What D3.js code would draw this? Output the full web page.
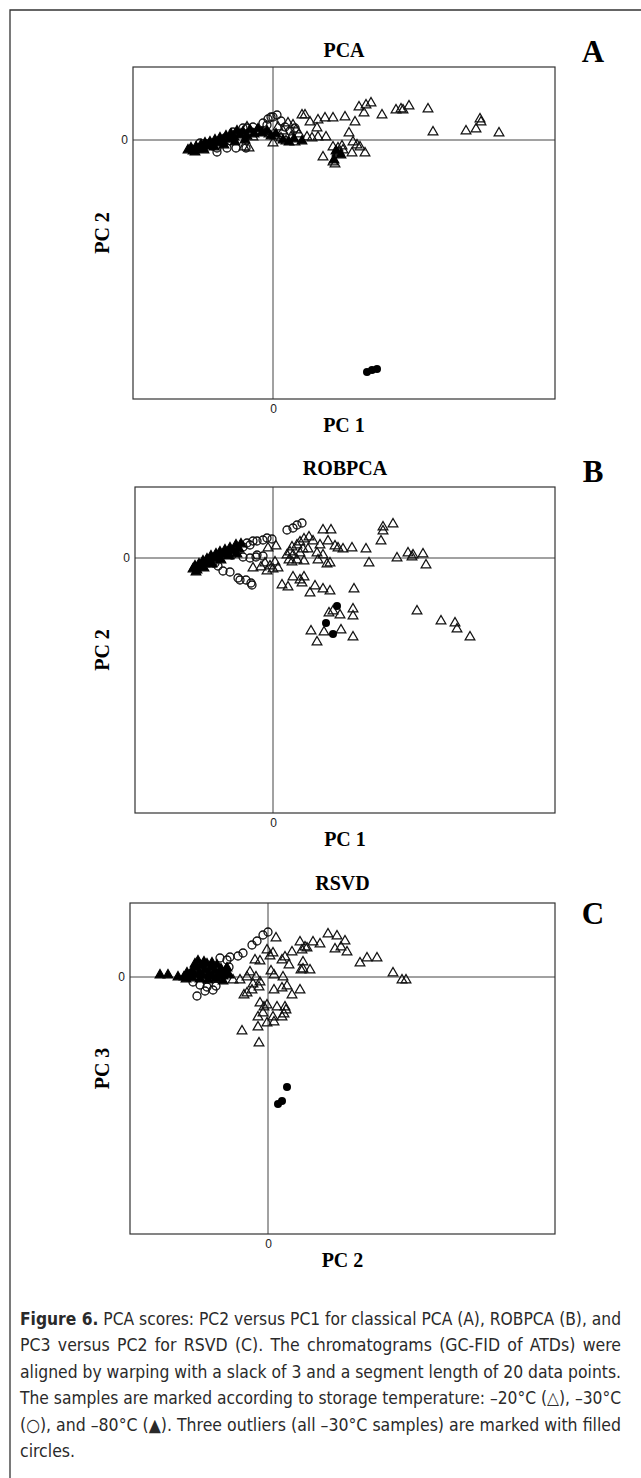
<!DOCTYPE html>
<html>
<head>
<meta charset="utf-8">
<script src="https://cdn.jsdelivr.net/npm/d3@7"></script>
<style>
  body { margin: 0; background: #fff; }
</style>
</head>
<body>
<svg id="fig" width="641" height="1478"></svg>
<script>
// scores (arbitrary score units, 0 = the cross lines)

// --- A: classical PCA, PC2 vs PC1 ---
var pcaTri20 = [
  [8.6,3.3],[9.3,3.5],[9.8,3.7],[9.1,2.7],[10.9,2.5],[12.3,3.0],[12.8,3.1],[13.0,3.0],[13.6,3.4],
  [15.5,3.1],[16.0,0.8],[19.3,0.9],[20.3,1.1],[20.7,2.1],[20.8,1.8],[22.6,0.7],
  [2.9,2.5],[3.2,2.5],[3.7,1.8],[4.5,2.0],[5.2,2.2],[6.0,2.2],[7.2,2.3],[8.2,1.8],[4.4,1.2],
  [3.4,0.3],[3.9,0.2],[4.5,0.3],[5.3,0.3],[7.6,0.7],[8.0,-0.2],[8.4,-0.5],[8.7,-0.7],[6.0,-0.7],
  [6.5,-0.8],[7.0,-1.0],[6.4,-1.3],[7.9,-1.3],[9.2,-1.3],[5.0,-1.7],[6.0,-2.2],[6.2,-2.4],[6.6,-1.2],[6.9,-0.6],
  [1.5,1.7],[2.0,1.5],[2.3,1.0],[2.6,0.6],[1.0,0.9],[0.5,1.3],[0.2,0.4],[0.8,0.2],[1.3,-0.1],[1.8,0.3],
  [2.2,-0.2],[0.0,-0.3],[-0.4,0.6],[-1.0,0.8],[-1.6,0.9],[-2.6,1.3],[-3.2,0.6],[-4.0,0.1],[-2.0,0.3],
  [-2.9,-0.7],[-2.4,-0.8]
];
var pcaCirc30 = [
  [-7.3,-0.3],[-6.5,-0.4],[-5.6,-1.2],[-5.6,-0.8],[-4.6,-0.8],[-3.7,-0.8],[-2.7,-0.8],[-4.8,0.2],
  [-4.0,0.8],[-3.6,0.7],[-3.0,1.2],[-2.6,1.2],[-2.0,1.3],[-2.2,0.8],[-1.3,0.9],[-1.0,1.7],[-0.6,1.5],
  [-0.5,2.1],[-0.2,2.3],[0.0,2.3],[0.4,2.5],[0.8,1.9],[1.2,1.3],[1.7,0.9],[2.2,1.2],[-5.2,0.0],[-6.0,-0.6]
];
var pcaTri80 = [
  [-8.5,-1.0],[-8.2,-0.8],[-8.0,-1.1],[-7.7,-0.7],[-7.5,-0.9],[-7.2,-0.5],[-7.0,-0.8],[-6.8,-0.3],
  [-6.6,-0.6],[-6.3,-0.2],[-6.1,-0.5],[-5.8,0.0],[-5.5,-0.3],[-5.3,0.2],[-5.0,-0.1],[-4.7,0.4],
  [-4.4,0.1],[-4.2,0.6],[-3.9,0.3],[-3.6,0.9],[-3.3,0.5],[-3.0,0.8],[-2.6,0.4],[-2.3,1.0],[-1.9,0.6],
  [-1.5,1.1],[-1.1,0.7],[-0.6,0.9],[-0.2,0.4],[0.3,0.6],[-7.8,-1.2],[-6.9,-1.0],[-5.9,-0.7],[-4.9,-0.5],
  [-3.8,-0.2],[-2.8,0.0],[1.0,0.0],[1.6,-0.2],[2.1,0.1],[2.9,-0.1],[6.3,-1.1],[6.8,-1.5],[6.1,-2.0]
];
var pcaOut = [[9.4,-23.2],[9.9,-23.0],[10.4,-22.9]];

// --- B: ROBPCA, PC2 vs PC1 ---
var robTri20 = [
  [5.0,2.8],[5.8,2.8],[11.0,3.1],[12.0,3.4],[11.0,2.7],[10.8,1.7],
  [2.7,1.6],[3.1,1.9],[3.6,2.1],[4.0,1.7],[4.7,1.3],[5.5,1.7],[6.2,1.2],[6.5,1.0],[7.0,0.9],[7.9,1.0],[9.3,0.9],
  [1.9,1.1],[2.4,1.3],[1.7,0.6],[1.4,0.3],[2.0,0.3],[2.7,0.5],[3.0,0.9],[3.5,0.9],
  [4.4,0.5],[5.0,0.3],[4.5,-0.2],[5.4,-0.6],[5.7,-0.5],[3.1,-0.3],[1.6,-0.2],[1.9,-0.4],[2.4,-0.2],
  [9.6,-0.5],[12.4,0.0],[13.5,0.5],[14.0,0.3],[13.9,0.1],[15.0,0.4],[15.3,-0.7],
  [0.9,-2.7],[1.5,-2.9],[2.0,-1.9],[2.7,-2.2],[3.1,-1.9],[2.9,-2.5],[4.2,-2.8],[3.7,-3.5],[5.0,-3.1],
  [5.7,-3.3],[8.1,-3.1],
  [5.6,-5.5],[6.0,-5.3],[6.7,-5.7],[8.0,-5.1],[8.0,-5.8],[3.8,-7.3],[5.1,-7.4],[6.8,-7.2],[8.0,-7.9],[4.4,-8.4],
  [14.4,-5.3],[16.8,-6.3],[18.2,-6.5],[18.4,-7.1],[19.7,-7.9],
  [-0.8,-0.5],[-0.3,-0.8],[0.2,-0.4],[-1.2,-0.9],[0.0,-1.1],[-0.6,-1.3],[0.5,-1.0],[-2.0,-1.0],[0.3,1.2],[-0.5,1.0]
];
var robCirc30 = [
  [1.4,2.8],[2.0,3.0],[2.4,3.3],[2.9,3.5],[-0.6,2.0],[-0.1,1.9],[-1.0,1.8],[-1.6,1.7],[-2.0,1.7],[-2.6,1.5],
  [-2.3,1.3],[-3.0,1.1],[-3.6,0.6],[-4.1,0.3],[-1.6,0.3],[-1.0,0.2],[-2.3,0.0],[-3.0,0.1],[-1.7,0.1],
  [-6.0,-0.5],[-5.8,-0.5],[-5.5,-0.8],[-5.0,-1.3],[-4.3,-1.4],[-3.5,-2.0],[-2.7,-2.2],[-3.3,-2.2],
  [-2.2,-2.5],[-2.1,-2.7]
];
var robTri80 = [
  [-8.0,-1.1],[-7.8,-0.8],[-7.6,-1.2],[-7.4,-0.6],[-7.2,-0.9],[-7.0,-0.3],[-6.8,-0.6],[-6.6,-0.1],
  [-6.4,-0.4],[-6.2,0.2],[-6.0,-0.1],[-5.7,0.4],[-5.5,0.1],[-5.3,0.6],[-5.0,0.3],[-4.8,0.8],[-4.5,0.5],
  [-4.3,1.0],[-4.0,0.7],[-3.7,1.3],[-3.4,0.9],[-3.2,1.4],[-7.7,-1.4],[-6.9,-1.0],[-6.1,-0.6],[-5.2,-0.2],
  [-4.4,0.2],[-3.6,0.4]
];
var robOut = [[6.4,-4.8],[5.3,-6.5],[6.0,-7.6]];

// --- C: RSVD, PC3 vs PC2 ---
var rsvdTri20 = [
  [6.0,4.3],[6.9,4.1],[7.7,3.6],[6.7,2.8],[7.9,2.5],[7.3,3.0],[5.2,3.3],[4.5,3.5],[3.2,3.5],[3.7,3.0],
  [3.4,2.7],[3.9,2.9],[2.4,2.5],
  [9.2,1.4],[9.9,1.9],[10.9,1.9],[12.5,0.4],[13.4,-0.3],[13.8,-0.3],
  [0.8,3.9],[-0.1,2.7],[0.5,2.4],[0.2,2.1],[-0.8,1.6],[-1.3,1.7],[1.7,2.0],[1.4,1.7],[2.1,1.2],[3.5,1.5],
  [3.5,0.8],[4.2,0.7],[3.3,0.7],[1.5,0.0],[0.6,0.2],[0.3,0.6],
  [-1.8,0.5],[-2.1,0.0],[-1.2,0.0],[-2.8,-0.3],[-3.5,-0.3],[-1.5,-0.7],[-0.8,-0.5],
  [-2.1,-1.6],[-2.4,-1.8],[-1.6,-1.3],[-0.9,-1.0],[0.6,-1.3],[1.4,-1.1],[1.9,-0.9],[2.4,-1.8],[3.2,-1.3],
  [-0.8,-2.6],[-0.1,-2.8],[-0.4,-3.0],[0.9,-3.0],[1.7,-3.0],[1.8,-3.3],
  [-1.0,-4.0],[-0.5,-3.6],[0.5,-4.0],[1.4,-4.0],[1.6,-3.7],
  [-1.0,-5.0],[-0.1,-4.6],[0.6,-4.5],[-2.6,-5.4],[-0.9,-6.6]
];
var rsvdCirc30 = [
  [0.0,4.5],[-0.5,4.2],[-1.1,3.6],[-1.6,3.2],[-2.5,2.4],[-3.0,2.1],[-3.8,2.0],[-4.1,1.7],[-4.8,1.9],
  [-3.9,1.0],[-7.5,-0.5],[-6.8,-0.8],[-6.1,-1.0],[-5.5,-1.3],[-7.1,-1.9],[-6.3,-1.4],[-5.2,-0.9],
  [-6.6,0.4],[-5.8,0.6],[-4.6,0.2]
];
var rsvdTri80 = [
  [-10.8,0.2],[-10.0,0.2],[-9.0,0.0],[-8.4,0.0],[-8.1,0.4],[-7.9,0.1],[-7.6,0.6],[-7.4,0.2],[-7.2,0.9],
  [-7.0,1.6],[-6.9,0.4],[-6.7,1.1],[-6.5,0.1],[-6.3,0.7],[-6.1,1.3],[-5.9,0.3],[-5.7,0.9],[-5.5,0.0],
  [-5.3,0.6],[-5.1,1.2],[-4.9,0.3],[-4.7,0.8],[-4.5,0.1],[-4.3,0.5],[-4.1,0.9],[-3.9,0.2],[-8.2,-0.2],
  [-7.6,-0.1],[-6.8,-0.2],[-6.0,-0.3],[-5.2,-0.2],[-4.5,-0.4],[-7.3,1.3],[-6.4,1.5],[-5.6,1.4]
];
var rsvdOut = [[1.9,-11.0],[1.4,-12.4],[1.0,-12.7]];

var panelTitles = ["PCA", "ROBPCA", "RSVD"];
var panelLetters = ["A", "B", "C"];
var xLabels = ["PC 1", "PC 1", "PC 2"];
var yLabels = ["PC 2", "PC 2", "PC 3"];
var zeroTicks = [0];

var captionLines = [
  "PCA scores: PC2 versus PC1 for classical PCA (A), ROBPCA (B), and",
  "PC3 versus PC2 for RSVD (C). The chromatograms (GC-FID of ATDs) were",
  "aligned by warping with a slack of 3 and a segment length of 20 data points.",
  "The samples are marked according to storage temperature: \u201320\u00b0C (\u25b3), \u201330\u00b0C",
  "(\u25cb), and \u201380\u00b0C (\u25b2). Three outliers (all \u201330\u00b0C samples) are marked with filled",
  "circles."
];

// layout of the three panels
var panels = [
  { tri20: pcaTri20, circ30: pcaCirc30, tri80: pcaTri80, out: pcaOut,
    xDomain: [-14.0, 28.2], yDomain: [-25.9, 7.3],
    box: { left: 133, top: 67, right: 555, bottom: 399 }, titleY: 57, letterY: 62 },
  { tri20: robTri20, circ30: robCirc30, tri80: robTri80, out: robOut,
    xDomain: [-13.8, 28.2], yDomain: [-25.5, 7.1],
    box: { left: 135, top: 487, right: 555, bottom: 813 }, titleY: 475, letterY: 482 },
  { tri20: rsvdTri20, circ30: rsvdCirc30, tri80: rsvdTri80, out: rsvdOut,
    xDomain: [-13.8, 28.7], yDomain: [-25.7, 7.4],
    box: { left: 130, top: 903, right: 555, bottom: 1234 }, titleY: 890, letterY: 924 }
];

var serif = "'Liberation Serif', 'Times New Roman', serif";
var sans = "'Liberation Sans', Arial, sans-serif";

var svg = d3.select("#fig");
svg.append("rect").attr("width", 641).attr("height", 1478).attr("fill", "#fff");

// outer frame (open on right and bottom)
svg.append("path")
  .attr("d", "M10,1478V10H641")
  .attr("fill", "none")
  .attr("stroke", "#333")
  .attr("stroke-width", 1.3);

var triPath = d3.symbol().type(d3.symbolTriangle).size(40)();

panels.forEach(function(p, i) {
  var x = d3.scaleLinear().domain(p.xDomain).range([p.box.left, p.box.right]);
  var y = d3.scaleLinear().domain(p.yDomain).range([p.box.bottom, p.box.top]);
  var g = svg.append("g").attr("class", "panel");

  // zero cross lines
  g.append("line")
    .attr("x1", x(0)).attr("x2", x(0))
    .attr("y1", p.box.top).attr("y2", p.box.bottom)
    .attr("stroke", "#444").attr("stroke-width", 1);
  g.append("line")
    .attr("x1", p.box.left).attr("x2", p.box.right)
    .attr("y1", y(0)).attr("y2", y(0))
    .attr("stroke", "#444").attr("stroke-width", 1);

  // -30 C open circles
  g.selectAll(".c30")
    .data(p.circ30)
    .enter().append("circle")
    .attr("class", "c30")
    .attr("cx", function(d) { return x(d[0]); })
    .attr("cy", function(d) { return y(d[1]); })
    .attr("r", 4)
    .attr("fill", "none")
    .attr("stroke", "#111")
    .attr("stroke-width", 1.3);

  // -20 C open triangles
  g.selectAll(".t20")
    .data(p.tri20)
    .enter().append("path")
    .attr("class", "t20")
    .attr("d", triPath)
    .attr("transform", function(d) { return "translate(" + x(d[0]) + "," + y(d[1]) + ")"; })
    .attr("fill", "none")
    .attr("stroke", "#111")
    .attr("stroke-width", 1.3);

  // -80 C filled triangles
  g.selectAll(".t80")
    .data(p.tri80)
    .enter().append("path")
    .attr("class", "t80")
    .attr("d", triPath)
    .attr("transform", function(d) { return "translate(" + x(d[0]) + "," + y(d[1]) + ")"; })
    .attr("fill", "#000")
    .attr("stroke", "#000")
    .attr("stroke-width", 1.2);

  // outliers, filled circles
  g.selectAll(".out")
    .data(p.out)
    .enter().append("circle")
    .attr("class", "out")
    .attr("cx", function(d) { return x(d[0]); })
    .attr("cy", function(d) { return y(d[1]); })
    .attr("r", 4)
    .attr("fill", "#000");

  // plot box
  g.append("rect")
    .attr("x", p.box.left).attr("y", p.box.top)
    .attr("width", p.box.right - p.box.left)
    .attr("height", p.box.bottom - p.box.top)
    .attr("fill", "none")
    .attr("stroke", "#333")
    .attr("stroke-width", 1.2);

  // "0" labels only
  var ax = g.append("g")
    .attr("transform", "translate(" + p.box.left + ",0)")
    .call(d3.axisLeft(y).tickValues(zeroTicks).tickSize(0).tickPadding(5));
  var bx = g.append("g")
    .attr("transform", "translate(0," + p.box.bottom + ")")
    .call(d3.axisBottom(x).tickValues(zeroTicks).tickSize(0).tickPadding(5));
  [ax, bx].forEach(function(a) {
    a.select(".domain").remove();
    a.selectAll("text")
      .attr("font-family", sans)
      .attr("font-size", 12)
      .attr("fill", "#222");
  });

  // title, letter, axis labels
  var cx = (p.box.left + p.box.right) / 2;
  g.append("text")
    .attr("x", cx).attr("y", p.titleY)
    .attr("text-anchor", "middle")
    .attr("font-family", serif).attr("font-weight", "bold").attr("font-size", 20)
    .text(panelTitles[i]);
  g.append("text")
    .attr("x", 593).attr("y", p.letterY)
    .attr("text-anchor", "middle")
    .attr("font-family", serif).attr("font-weight", "bold").attr("font-size", 31)
    .text(panelLetters[i]);
  g.append("text")
    .attr("x", cx).attr("y", p.box.bottom + 33)
    .attr("text-anchor", "middle")
    .attr("font-family", serif).attr("font-weight", "bold").attr("font-size", 20)
    .text(xLabels[i]);
  g.append("text")
    .attr("transform", "translate(109," + ((p.box.top + p.box.bottom) / 2) + ") rotate(-90)")
    .attr("text-anchor", "middle")
    .attr("font-family", serif).attr("font-weight", "bold").attr("font-size", 20)
    .text(yLabels[i]);
});

// caption, justified between x=20 and x=621
var capFont = "'Liberation Sans Narrow', 'DejaVu Sans Condensed', 'Roboto Condensed', sans-serif";
var capLeft = 20, capRight = 621, capTop = 1325, capStep = 26.4;
captionLines.forEach(function(line, i) {
  var t = svg.append("text")
    .attr("x", capLeft)
    .attr("y", capTop + i * capStep)
    .attr("font-family", capFont)
    .attr("font-size", 17.5)
    .attr("fill", "#2a2a2a");
  if (i === 0) {
    t.append("tspan").attr("font-weight", "bold").text("Figure 6.");
    t.append("tspan").text(" " + line);
  } else {
    t.text(line);
  }
  if (i < captionLines.length - 1) {
    var natural = t.node().getComputedTextLength();
    var full = (i === 0 ? "Figure 6. " + line : line);
    var gaps = full.split(" ").length - 1;
    var target = capRight - capLeft;
    if (natural <= target) {
      t.attr("word-spacing", (target - natural) / gaps);
    } else {
      t.attr("textLength", target).attr("lengthAdjust", "spacingAndGlyphs");
    }
  }
});
</script>
</body>
</html>
